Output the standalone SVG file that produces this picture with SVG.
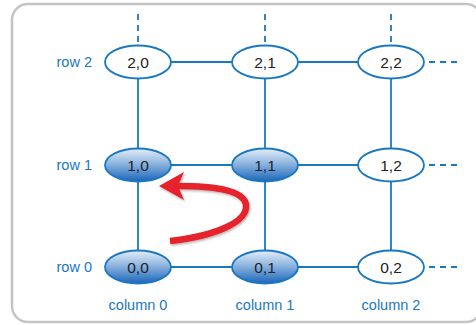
<svg xmlns="http://www.w3.org/2000/svg" width="476" height="325" viewBox="0 0 476 325">
  <defs>
    <linearGradient id="fillBlue" x1="0" y1="0" x2="0" y2="1">
      <stop offset="0" stop-color="#e4eef8"/>
      <stop offset="0.45" stop-color="#8fb5df"/>
      <stop offset="1" stop-color="#1a66ba"/>
    </linearGradient>
    <filter id="shadow" x="-20%" y="-20%" width="140%" height="140%">
      <feDropShadow dx="1" dy="1.5" stdDeviation="1" flood-color="#000" flood-opacity="0.3"/>
    </filter>
    <style>
      .frame { fill: #ffffff; stroke: #c4c4c4; stroke-width: 2.5; }
      .edge { stroke: #1a78c2; stroke-width: 1.8; fill: none; }
      .dash { stroke: #1a78c2; stroke-width: 1.8; fill: none; stroke-dasharray: 6 5; }
      .node { stroke: #1a78c2; stroke-width: 1.8; fill: #ffffff; }
      .node.on { fill: url(#fillBlue); }
      .val { font-family: "Liberation Sans", Arial, sans-serif; font-size: 15.5px; fill: #222222; text-anchor: middle; }
      .lbl { font-family: "Liberation Sans", Arial, sans-serif; font-size: 14.5px; fill: #1a78c2; }
    </style>
  </defs>

  <rect class="frame" x="12" y="4" width="470" height="318" rx="16" ry="16"/>

  <g id="connectors">
    <!-- grid edges -->
    <line class="edge" x1="171" y1="62" x2="232" y2="62"/>
    <line class="edge" x1="298" y1="62" x2="358" y2="62"/>
    <line class="edge" x1="171" y1="165" x2="232" y2="165"/>
    <line class="edge" x1="298" y1="165" x2="358" y2="165"/>
    <line class="edge" x1="171" y1="267" x2="232" y2="267"/>
    <line class="edge" x1="298" y1="267" x2="358" y2="267"/>
    <line class="edge" x1="138" y1="78" x2="138" y2="149"/>
    <line class="edge" x1="138" y1="181" x2="138" y2="251"/>
    <line class="edge" x1="265" y1="78" x2="265" y2="149"/>
    <line class="edge" x1="265" y1="181" x2="265" y2="251"/>
    <line class="edge" x1="391" y1="78" x2="391" y2="149"/>
    <line class="edge" x1="391" y1="181" x2="391" y2="251"/>
    <!-- continuation stubs -->
    <line class="dash" x1="138" y1="14" x2="138" y2="45"/>
    <line class="dash" x1="265" y1="14" x2="265" y2="45"/>
    <line class="dash" x1="391" y1="14" x2="391" y2="45"/>
    <line class="dash" x1="429" y1="62" x2="460" y2="62"/>
    <line class="dash" x1="429" y1="165" x2="460" y2="165"/>
    <line class="dash" x1="429" y1="267" x2="460" y2="267"/>
  </g>

  <g id="node-2-0"><ellipse class="node" cx="138" cy="62" rx="33" ry="16.5"/><text class="val" x="138" y="67.5">2,0</text></g>
  <g id="node-2-1"><ellipse class="node" cx="265" cy="62" rx="33" ry="16.5"/><text class="val" x="265" y="67.5">2,1</text></g>
  <g id="node-2-2"><ellipse class="node" cx="391" cy="62" rx="33" ry="16.5"/><text class="val" x="391" y="67.5">2,2</text></g>
  <g id="node-1-0"><ellipse class="node on" cx="138" cy="165" rx="33" ry="16.5"/><text class="val" x="138" y="170.5">1,0</text></g>
  <g id="node-1-1"><ellipse class="node on" cx="265" cy="165" rx="33" ry="16.5"/><text class="val" x="265" y="170.5">1,1</text></g>
  <g id="node-1-2"><ellipse class="node" cx="391" cy="165" rx="33" ry="16.5"/><text class="val" x="391" y="170.5">1,2</text></g>
  <g id="node-0-0"><ellipse class="node on" cx="138" cy="267" rx="33" ry="16.5"/><text class="val" x="138" y="272.5">0,0</text></g>
  <g id="node-0-1"><ellipse class="node on" cx="265" cy="267" rx="33" ry="16.5"/><text class="val" x="265" y="272.5">0,1</text></g>
  <g id="node-0-2"><ellipse class="node" cx="391" cy="267" rx="33" ry="16.5"/><text class="val" x="391" y="272.5">0,2</text></g>

  <g id="labels">
    <text class="lbl" x="92" y="67" text-anchor="end">row 2</text>
    <text class="lbl" x="92" y="170" text-anchor="end">row 1</text>
    <text class="lbl" x="92" y="272" text-anchor="end">row 0</text>
    <text class="lbl" x="138" y="310" text-anchor="middle">column 0</text>
    <text class="lbl" x="265" y="310" text-anchor="middle">column 1</text>
    <text class="lbl" x="391" y="310" text-anchor="middle">column 2</text>
  </g>

  <!-- curved return arrow -->
  <g id="return-arrow" filter="url(#shadow)">
    <path d="M170 241 C 215 236, 248 222, 246 205 C 244 190, 215 186, 176 186" fill="none" stroke="#e62129" stroke-width="6.5" stroke-linecap="butt"/>
    <polygon points="159,186 184,172 178,186 184,200" fill="#e62129"/>
  </g>
</svg>
